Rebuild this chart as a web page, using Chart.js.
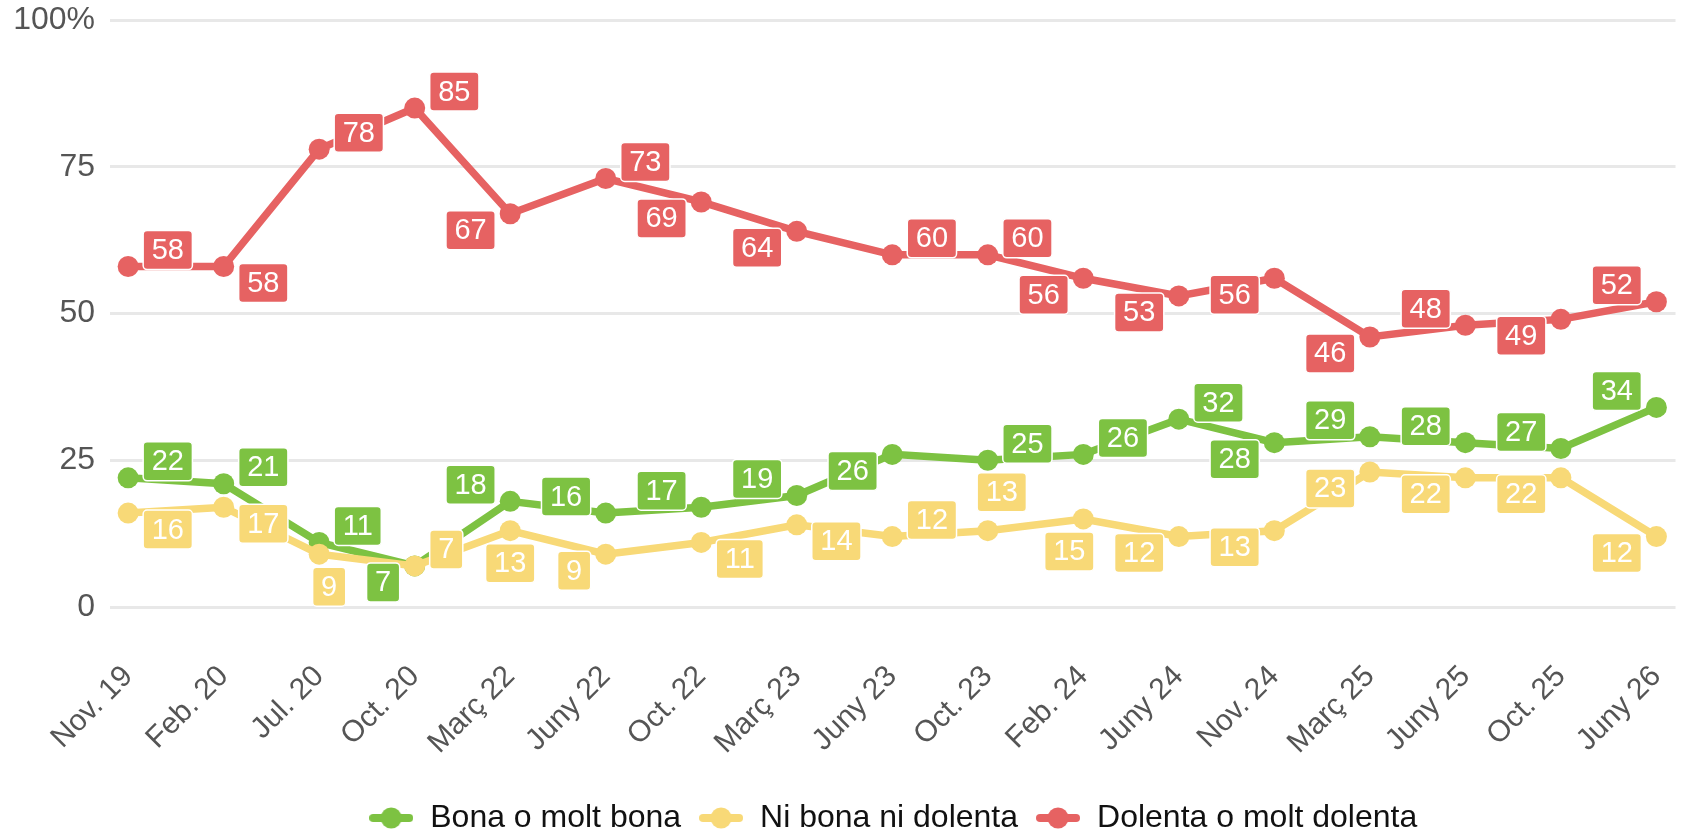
<!DOCTYPE html>
<html>
<head>
<meta charset="utf-8">
<script src="https://cdn.jsdelivr.net/npm/chart.js@4.4.1/dist/chart.umd.min.js"></script>
<style>
    html, body { margin: 0; padding: 0; background: #fff; }
    #wrap { width: 1686px; height: 835px; }
</style>
</head>
<body>
<div id="wrap"><canvas id="valoracioChart"></canvas></div>
<script>
// data
const categories = ['Nov. 19', 'Feb. 20', 'Jul. 20', 'Oct. 20', 'Març 22', 'Juny 22', 'Oct. 22', 'Març 23',
    'Juny 23', 'Oct. 23', 'Feb. 24', 'Juny 24', 'Nov. 24', 'Març 25', 'Juny 25', 'Oct. 25', 'Juny 26'];
const bona = [22, 21, 11, 7, 18, 16, 17, 19, 26, 25, 26, 32, 28, 29, 28, 27, 34];
const niBonaNiDolenta = [16, 17, 9, 7, 13, 9, 11, 14, 12, 13, 15, 12, 13, 23, 22, 22, 12];
const dolenta = [58, 58, 78, 85, 67, 73, 69, 64, 60, 60, 56, 53, 56, 46, 48, 49, 52];
const seriesNames = ['Bona o molt bona', 'Ni bona ni dolenta', 'Dolenta o molt dolenta'];
const yTicks = [0, 25, 50, 75, 100];

// where each value label sits relative to its point
const spotsBona = ['ur', 'ur', 'ur', 'dl', 'ul', 'ul', 'ul', 'ul', 'dl', 'ur', 'ur', 'ur', 'dl', 'ul', 'ul', 'ul', 'ul'];
const spotsNi = ['dr', 'dr', 'd+10', 'ur', 'd', 'dl', 'dr', 'dr', 'ur', 'u+14', 'd-14', 'dl', 'dl', 'dl', 'dl', 'dl', 'dl'];
const spotsDolenta = ['ur', 'dr', 'ur', 'ur', 'dl', 'ur', 'dl', 'dl', 'ur', 'ur', 'dl', 'dl', 'dl', 'dl', 'ul', 'dl', 'ul'];
const labelSpots = [spotsBona, spotsNi, spotsDolenta];

const GREEN = '#7dc242';
const YELLOW = '#f8d977';
const RED = '#e66262';
const FONT = '"Liberation Sans", Arial, Helvetica, sans-serif';

Chart.defaults.font.family = FONT;

function legendMarker(color) {
    const c = document.createElement('canvas');
    c.width = 44;
    c.height = 22;
    const g = c.getContext('2d');
    g.strokeStyle = color;
    g.lineWidth = 8;
    g.lineCap = 'round';
    g.beginPath();
    g.moveTo(4, 11);
    g.lineTo(40, 11);
    g.stroke();
    g.fillStyle = color;
    g.beginPath();
    g.arc(22, 11, 10.5, 0, Math.PI * 2);
    g.fill();
    return c;
}

const valueLabels = {
    id: 'valueLabels',
    afterDatasetsDraw(chart) {
        const ctx = chart.ctx;
        ctx.save();
        ctx.font = '29px ' + FONT;
        ctx.textAlign = 'center';
        ctx.textBaseline = 'middle';
        chart.data.datasets.forEach((ds, di) => {
            const meta = chart.getDatasetMeta(di);
            meta.data.forEach((pt, i) => {
                const text = String(ds.data[i].y);
                const w = ctx.measureText(text).width + 17;
                const h = 39;
                const spot = labelSpots[di][i];
                let cx, cy;
                if (spot === 'ur' || spot === 'ul' || spot === 'dr' || spot === 'dl') {
                    cx = spot[1] === 'r' ? pt.x + 15 + w / 2 : pt.x - 15 - w / 2;
                    cy = spot[0] === 'u' ? pt.y + 3 - h / 2 : pt.y - 3 + h / 2;
                } else {
                    const shift = parseFloat(spot.slice(1)) || 0;
                    cx = pt.x + shift;
                    cy = spot[0] === 'u' ? pt.y - 19 - h / 2 : pt.y + 13 + h / 2;
                }
                ctx.beginPath();
                ctx.roundRect(cx - w / 2, cy - h / 2, w, h, 4);
                ctx.fillStyle = ds.borderColor;
                ctx.fill();
                ctx.lineWidth = 1.5;
                ctx.strokeStyle = '#fff';
                ctx.stroke();
                ctx.fillStyle = '#fff';
                ctx.fillText(text, cx, cy + 1);
            });
        });
        ctx.restore();
    }
};

function series(label, values, color, order) {
    return {
        label: label,
        data: values.map((v, i) => ({ x: i, y: v })),
        borderColor: color,
        backgroundColor: color,
        pointBackgroundColor: color,
        borderWidth: 7.5,
        pointRadius: 10.5,
        pointHoverRadius: 10.5,
        pointBorderWidth: 0,
        tension: 0,
        order: order
    };
}

const ctt = document.getElementById('valoracioChart').getContext('2d');
const markers = [legendMarker(GREEN), legendMarker(YELLOW), legendMarker(RED)];

new Chart(ctt, {
    type: 'line',
    data: {
        datasets: [
            series(seriesNames[0], bona, GREEN, 2),
            series(seriesNames[1], niBonaNiDolenta, YELLOW, 1),
            series(seriesNames[2], dolenta, RED, 0)
        ]
    },
    options: {
        responsive: true,
        maintainAspectRatio: false,
        animation: false,
        layout: { padding: { top: 20, left: 0, right: 0, bottom: 0 } },
        plugins: {
            tooltip: { enabled: false },
            legend: {
                position: 'bottom',
                fullSize: false,
                maxHeight: 50,
                labels: {
                    usePointStyle: true,
                    pointStyleWidth: 46,
                    padding: 17,
                    color: '#111',
                    font: { size: 32 },
                    generateLabels(chart) {
                        return chart.data.datasets.map((ds, i) => ({
                            text: ds.label,
                            pointStyle: markers[i],
                            fillStyle: ds.borderColor,
                            strokeStyle: ds.borderColor,
                            lineWidth: 0,
                            fontColor: '#111',
                            hidden: !chart.isDatasetVisible(i),
                            datasetIndex: i
                        }));
                    }
                }
            }
        },
        scales: {
            x: {
                type: 'linear',
                min: -0.19,
                max: categories.length - 1 + 0.2,
                grid: { display: false },
                border: { display: false },
                afterBuildTicks: (axis) => { axis.ticks = categories.map((c, i) => ({ value: i })); },
                afterFit: (axis) => { axis.height = 178; axis.paddingLeft = 0; axis.paddingRight = 0; },
                ticks: {
                    autoSkip: false,
                    minRotation: 45,
                    maxRotation: 45,
                    padding: 44,
                    color: '#555',
                    font: { size: 30 },
                    callback: (v) => categories[v]
                }
            },
            y: {
                min: 0,
                max: 100,
                afterBuildTicks: (axis) => { axis.ticks = yTicks.map(v => ({ value: v })); },
                afterFit: (axis) => { axis.width = 110; axis.paddingTop = 0; axis.paddingBottom = 0; },
                grid: { color: '#e8e8e8', lineWidth: 3, drawTicks: false },
                border: { display: false },
                ticks: {
                    padding: 15,
                    color: '#555',
                    font: { size: 32 },
                    callback: (v) => v === 100 ? '100%' : v
                }
            }
        }
    },
    plugins: [valueLabels]
});
</script>
</body>
</html>
